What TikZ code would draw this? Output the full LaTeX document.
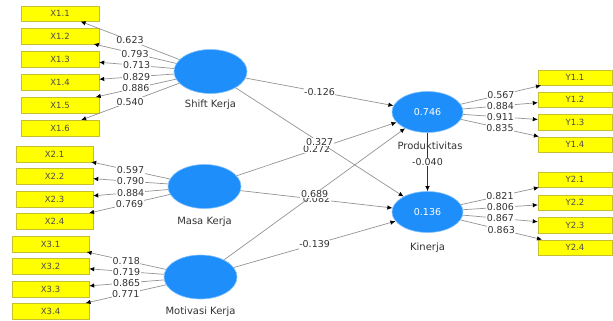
\documentclass[tikz,border=0pt]{standalone}
\usepackage{fontspec}
\setmainfont{DejaVu Sans}
\usetikzlibrary{shapes.geometric,arrows.meta}
\definecolor{lvblue}{RGB}{30,142,250}
\definecolor{indyellow}{RGB}{255,255,0}
\tikzset{
  lv/.style={ellipse,fill=lvblue,draw=lvblue!55!white,line width=0.6pt,
    minimum width=73pt,minimum height=44pt,inner sep=0pt,text=white,
    font=\fontsize{9.5}{11}\selectfont},
  ind/.style={rectangle,fill=indyellow,draw=yellow!75!black,line width=0.4pt,
    minimum width=77pt,minimum height=15.5pt,inner sep=0pt,text=black!70,
    font=\fontsize{8.5}{9}\selectfont},
  lvname/.style={text=black!80,font=\fontsize{10}{11}\selectfont},
  load/.style={draw=gray!85,line width=0.7pt,-{Latex[length=5pt,width=4.5pt,color=black]}},
  coef/.style={fill=white,inner sep=0.6pt,text=black!80,font=\fontsize{9.5}{11}\selectfont},
}
\begin{document}
\begin{tikzpicture}[x=1pt,y=-1pt]  % ------ model PLS ------
\useasboundingbox (0,0) rectangle (613,321);

% variabel laten
    \node[lv] (sk) at (210.5,71.5) {};
    \node[lv] (mk) at (204.5,186.5) {};
    \node[lv] (mot) at (200.5,277) {};
    \node[lv,minimum width=71pt,minimum height=41pt] (prod) at (427.5,112) {0.746};
    \node[lv,minimum width=71pt,minimum height=41pt] (kin) at (427.5,212) {0.136};

    \node[lvname] (sk-l) at (210.5,105) {Shift Kerja};
    \node[lvname] (mk-l) at (204.5,222) {Masa Kerja};
    \node[lvname] (mot-l) at (200.5,312) {Motivasi Kerja};
    \node[lvname] (prod-l) at (430,146) {Produktivitas};
    \node[lvname] (kin-l) at (427.5,248) {Kinerja};

% indikator
    \node[ind,minimum width=78pt] (x11) at (60,13.5) {X1.1};
    \node[ind,minimum width=78pt] (x12) at (60,36) {X1.2};
    \node[ind,minimum width=78pt] (x13) at (60,59) {X1.3};
    \node[ind,minimum width=78pt] (x14) at (60,82) {X1.4};
    \node[ind,minimum width=78pt] (x15) at (60,105) {X1.5};
    \node[ind,minimum width=78pt] (x16) at (60,128) {X1.6};

    \node[ind] (x21) at (54.5,154) {X2.1};
    \node[ind] (x22) at (54.5,176) {X2.2};
    \node[ind] (x23) at (54.5,199) {X2.3};
    \node[ind] (x24) at (54.5,221) {X2.4};

    \node[ind] (x31) at (50.5,244) {X3.1};
    \node[ind] (x32) at (50.5,266) {X3.2};
    \node[ind] (x33) at (50.5,289) {X3.3};
    \node[ind] (x34) at (50.5,311) {X3.4};

    \node[ind,minimum width=74pt] (y11) at (575,77.5) {Y1.1};
    \node[ind,minimum width=74pt] (y12) at (575,99.5) {Y1.2};
    \node[ind,minimum width=74pt] (y13) at (575,122) {Y1.3};
    \node[ind,minimum width=74pt] (y14) at (575,144.5) {Y1.4};

    \node[ind,minimum width=74pt] (y21) at (575,179.5) {Y2.1};
    \node[ind,minimum width=74pt] (y22) at (575,202.5) {Y2.2};
    \node[ind,minimum width=74pt] (y23) at (575,225) {Y2.3};
    \node[ind,minimum width=74pt] (y24) at (575,247.5) {Y2.4};

% outer loading
    \draw[load] (sk) -- node[coef] {0.623} (x11);
    \draw[load] (sk) -- node[coef] {0.793} (x12);
    \draw[load] (sk) -- node[coef] {0.713} (x13);
    \draw[load] (sk) -- node[coef] {0.829} (x14);
    \draw[load] (sk) -- node[coef] {0.886} (x15);
    \draw[load] (sk) -- node[coef] {0.540} (x16);

    \draw[load] (mk) -- node[coef] {0.597} (x21);
    \draw[load] (mk) -- node[coef] {0.790} (x22);
    \draw[load] (mk) -- node[coef] {0.884} (x23);
    \draw[load] (mk) -- node[coef] {0.769} (x24);

    \draw[load] (mot) -- node[coef] {0.718} (x31);
    \draw[load] (mot) -- node[coef] {0.719} (x32);
    \draw[load] (mot) -- node[coef] {0.865} (x33);
    \draw[load] (mot) -- node[coef] {0.771} (x34);

    \draw[load] (prod) -- node[coef] {0.567} (y11);
    \draw[load] (prod) -- node[coef] {0.884} (y12);
    \draw[load] (prod) -- node[coef] {0.911} (y13);
    \draw[load] (prod) -- node[coef] {0.835} (y14);

    \draw[load] (kin) -- node[coef] {0.821} (y21);
    \draw[load] (kin) -- node[coef] {0.806} (y22);
    \draw[load] (kin) -- node[coef] {0.867} (y23);
    \draw[load] (kin) -- node[coef] {0.863} (y24);

% path coefficient
    \draw[load] (mk) -- node[coef] {0.272} (prod);
    \draw[load] (mk) -- node[coef] {0.082} (kin);
    \draw[load] (sk) -- node[coef] {-0.126} (prod);
    \draw[load] (sk) -- node[coef] {0.327} (kin);
    \draw[load] (mot) -- node[coef] {0.689} (prod);
    \draw[load] (mot) -- node[coef] {-0.139} (kin);
    \draw[load,draw=black!80] (prod) -- node[coef] {-0.040} (kin);
\end{tikzpicture}
\end{document}
